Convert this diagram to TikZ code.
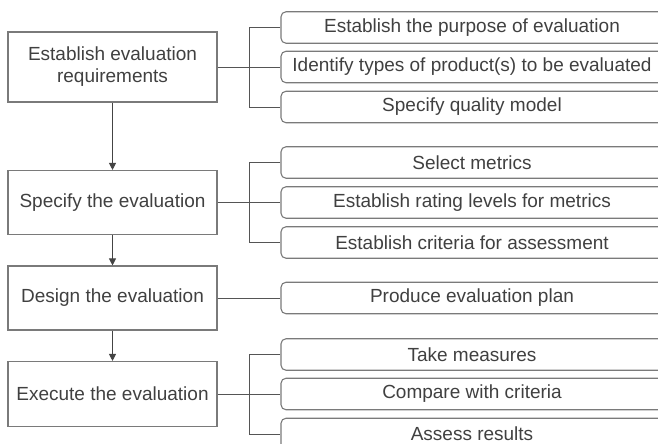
\documentclass[tikz,border=0pt]{standalone}
\usepackage{fontspec}
\setmainfont{Liberation Sans}
\usetikzlibrary{arrows.meta}
\definecolor{bd}{HTML}{7A7A7A}
\definecolor{ln}{HTML}{555555}
\definecolor{ar}{HTML}{444444}
\definecolor{tx}{HTML}{404040}
\begin{document}
\begin{tikzpicture}[x=1pt,y=-1pt,
  every node/.style={font=\fontsize{19}{22}\selectfont, text=tx},
  stage/.style={draw=bd, line width=1.1pt, minimum width=209pt, align=center, inner sep=0pt},
  task/.style={draw=bd, line width=1.1pt, rounded corners=5pt, minimum width=382pt, minimum height=31.5pt, inner sep=0pt},
  link/.style={draw=ln, line width=1pt},
  flow/.style={draw=ar, line width=1pt, -{Triangle[length=7pt,width=7pt]}}]
\useasboundingbox (0,0) rectangle (658,444);
\clip (0,0) rectangle (658,444);
% left stages
\node[stage, minimum height=70pt] (L1) at (112.5,67) {Establish evaluation\\requirements};
\node[stage, minimum height=64pt] (L2) at (112.5,202.5) {Specify the evaluation};
\node[stage, minimum height=64pt] (L3) at (112.5,298) {Design the evaluation};
\node[stage, minimum height=65pt] (L4) at (112.5,394) {Execute the evaluation};
% right tasks
\node[task] (r1) at (472,27.5) {Establish the purpose of evaluation};
\node[task] (r2) at (472,67) {Identify types of product(s) to be evaluated};
\node[task] (r3) at (472,107) {Specify quality model};
\node[task] (r4) at (472,162.5) {Select metrics};
\node[task] (r5) at (472,202.5) {Establish rating levels for metrics};
\node[task] (r6) at (472,242.5) {Establish criteria for assessment};
\node[task] (r7) at (472,298) {Produce evaluation plan};
\node[task] (r8) at (472,354.5) {Take measures};
\node[task] (r9) at (472,394) {Compare with criteria};
\node[task] (r10) at (472,434) {Assess results};
\coordinate (bx) at (249,0);
% arrows
\draw[flow] (L1) -- (L2);
\draw[flow] (L2) -- (L3);
\draw[flow] (L3) -- (L4);
% brackets
\draw[link] (L1.east) -- (r2.west);
\draw[link] (r1.west) -- (r1.west -| bx) |- (r3.west);
\draw[link] (L2.east) -- (r5.west);
\draw[link] (r4.west) -- (r4.west -| bx) |- (r6.west);
\draw[link] (L3.east) -- (r7.west);
\draw[link] (L4.east) -- (r9.west);
\draw[link] (r8.west) -- (r8.west -| bx) |- (r10.west);
\end{tikzpicture}
\end{document}
